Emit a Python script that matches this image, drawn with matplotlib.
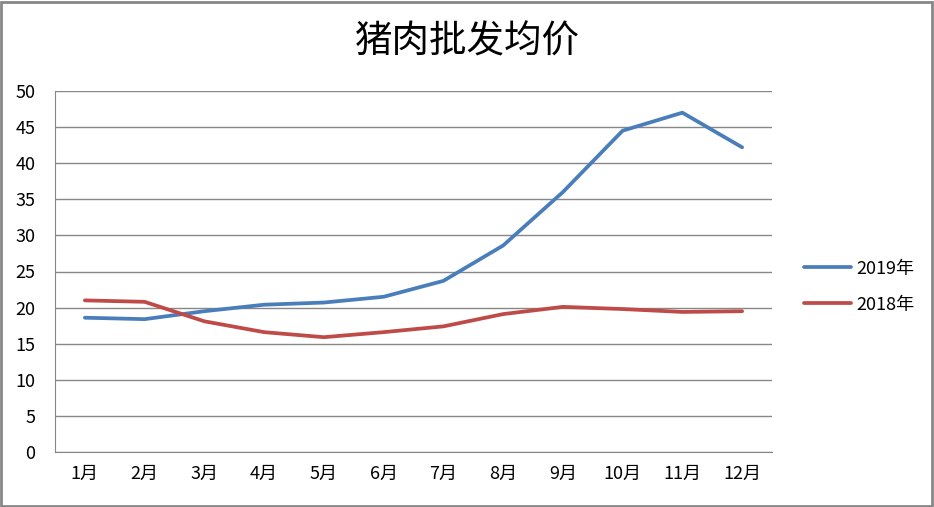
import matplotlib
matplotlib.use('Agg')
import matplotlib.pyplot as plt
from matplotlib.patches import Rectangle

plt.rcParams['font.family'] = ['Noto Sans CJK SC', 'DejaVu Sans']

# data
months = ['1月', '2月', '3月', '4月', '5月', '6月', '7月', '8月', '9月', '10月', '11月', '12月']
price_2019 = [18.6, 18.4, 19.5, 20.4, 20.7, 21.5, 23.7, 28.6, 36.0, 44.5, 47.0, 42.2]
price_2018 = [21.0, 20.8, 18.1, 16.6, 15.9, 16.6, 17.4, 19.1, 20.1, 19.8, 19.4, 19.5]
yticks = list(range(0, 51, 5))
title = '猪肉批发均价'

fig = plt.figure(figsize=(9.34, 5.07), dpi=100)
ax = fig.add_axes([55 / 934, 1 - 452 / 507, (772 - 55) / 934, (452 - 91) / 507])

x = range(len(months))
ax.plot(x, price_2019, color='#4A7EBB', lw=2.7, label='2019年', solid_capstyle='round')
ax.plot(x, price_2018, color='#BE4B48', lw=2.7, label='2018年', solid_capstyle='round')

ax.set_xlim(-0.5, len(months) - 0.5)
ax.set_ylim(0, 50)
ax.set_yticks(yticks)
ax.set_xticks(list(x))
ax.set_xticklabels(months)
ax.tick_params(length=0, labelsize=13)
ax.tick_params(axis='x', pad=9)
ax.tick_params(axis='y', pad=14)

# gridlines like excel
ax.grid(axis='y', color='#878787', lw=1)
ax.set_axisbelow(True)
for side in ['top', 'right']:
    ax.spines[side].set_visible(False)
ax.spines['left'].set_color('#878787')
ax.spines['bottom'].set_color('#878787')

fig.text(0.5, 1 - 42 / 507, title, ha='center', va='center', fontsize=27)

ax.legend(loc='center left', bbox_to_anchor=(1.022, 0.458), frameon=False,
          fontsize=13, handlelength=2.6, handletextpad=0.3, labelspacing=1.0)

# outer chart border
fig.patches.append(Rectangle((0.001, 0.002), 0.997, 0.995, transform=fig.transFigure,
                             fill=False, edgecolor='#878787', lw=2))

fig.savefig('out.png', dpi=100)
